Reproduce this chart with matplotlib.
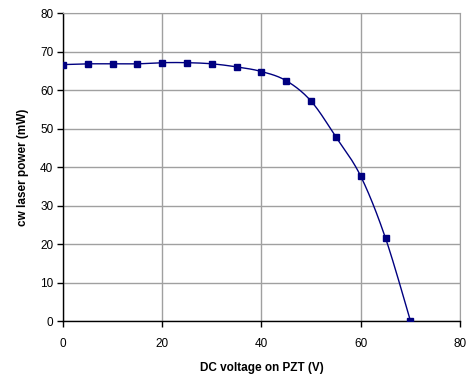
import numpy as np
import matplotlib.pyplot as plt

plt.rcParams['font.family'] = ['Liberation Sans', 'DejaVu Sans']

# DC voltage on PZT (V) and cw laser power (mW)
voltage = [0, 5, 10, 15, 20, 25, 30, 35, 40, 45, 50, 55, 60, 65, 70]
power = [66.6, 66.8, 66.8, 66.8, 67.1, 67.1, 66.8, 66.0, 64.8, 62.4, 57.1, 47.8, 37.6, 21.5, 0.1]


def smooth_curve(x, y, steps=20):
    # Excel-style smoothed line: cubic Bezier between points with
    # Catmull-Rom control points
    x = np.asarray(x, float)
    y = np.asarray(y, float)
    px = np.concatenate([[x[0]], x, [x[-1]]])
    py = np.concatenate([[y[0]], y, [y[-1]]])
    xs, ys = [], []
    t = np.linspace(0, 1, steps)
    for i in range(1, len(px) - 2):
        p0 = np.array([px[i], py[i]])
        p3 = np.array([px[i + 1], py[i + 1]])
        c1 = p0 + (np.array([px[i + 1], py[i + 1]]) - np.array([px[i - 1], py[i - 1]])) / 6
        c2 = p3 - (np.array([px[i + 2], py[i + 2]]) - np.array([px[i], py[i]])) / 6
        b = ((1 - t) ** 3)[:, None] * p0 + (3 * (1 - t) ** 2 * t)[:, None] * c1 \
            + (3 * (1 - t) * t ** 2)[:, None] * c2 + (t ** 3)[:, None] * p3
        xs.extend(b[:, 0])
        ys.extend(b[:, 1])
    return xs, ys


fig = plt.figure(figsize=(4.67, 3.77), dpi=100)
ax = fig.add_axes([0.1349, 0.1485, 0.8501, 0.817])

sx, sy = smooth_curve(voltage, power)
ax.plot(sx, sy, color='#000080', lw=1.0, zorder=3)
ax.plot(voltage, power, ls='none', marker='s', ms=4.5, color='#000080', zorder=4)

ax.set_xlim(0, 80)
ax.set_ylim(0, 80)
ax.set_xticks([0, 20, 40, 60, 80])
ax.set_yticks(range(0, 81, 10))
ax.grid(True, color='#a0a0a0', lw=1.0)
ax.set_axisbelow(True)

for s in ['top', 'right']:
    ax.spines[s].set_color('#a0a0a0')
for s in ['left', 'bottom']:
    ax.spines[s].set_color('black')
    ax.spines[s].set_linewidth(1.0)

ax.tick_params(direction='out', length=4, width=1, labelsize=8.5, colors='black', pad=8)
ax.tick_params(axis='y', pad=3)

ax.set_xlabel('DC voltage on PZT (V)', fontsize=8.5, fontweight='bold', labelpad=9)
ax.set_ylabel('cw laser power (mW)', fontsize=8.5, fontweight='bold', labelpad=8)

fig.savefig('out.png', dpi=100)
